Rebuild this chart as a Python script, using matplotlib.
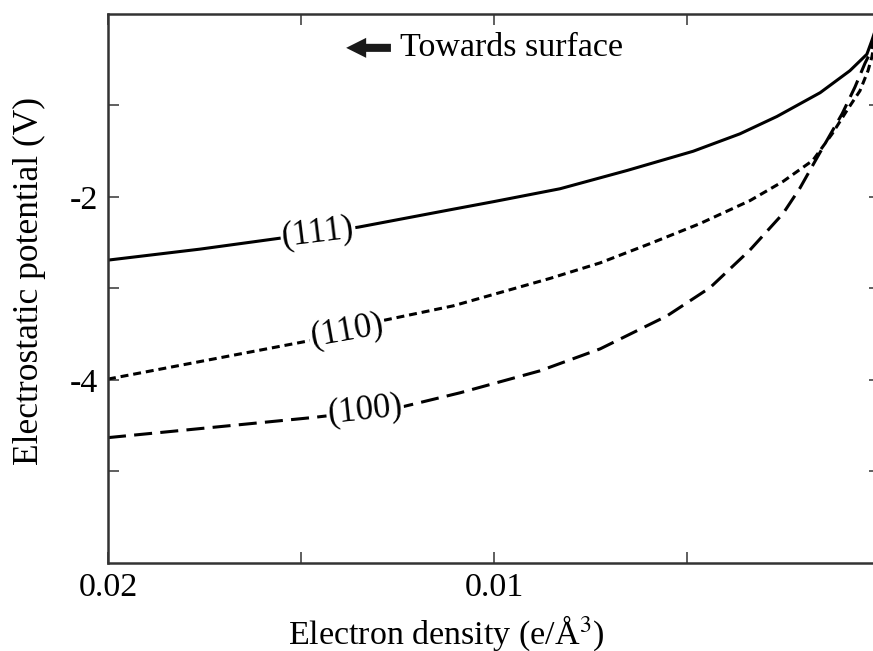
import numpy as np
import matplotlib.pyplot as plt

plt.rcParams['font.family'] = ['Liberation Serif', 'DejaVu Serif']
plt.rcParams['mathtext.fontset'] = 'stix'
plt.rcParams['axes.unicode_minus'] = False

# Electron density (e/A^3) and electrostatic potential (V)
dens_111 = [0.0200, 0.01762, 0.01554, 0.01352, 0.01114, 0.0100, 0.00829, 0.00655,
            0.00484, 0.00363, 0.00267, 0.00155, 0.00078, 0.00034, 0.00021, 0.00010]
pot_111 = [-2.69, -2.57, -2.45, -2.33, -2.14, -2.05, -1.91, -1.71,
           -1.50, -1.31, -1.12, -0.86, -0.62, -0.44, -0.29, -0.15]

dens_110 = [0.0200, 0.01477, 0.01288, 0.01106, 0.00855, 0.00725, 0.00596, 0.00466,
            0.00337, 0.00251, 0.00174, 0.00124, 0.00085, 0.00052, 0.00031, 0.00021, 0.00010]
pot_110 = [-3.99, -3.57, -3.35, -3.19, -2.89, -2.72, -2.51, -2.29,
           -2.04, -1.83, -1.60, -1.31, -1.05, -0.84, -0.62, -0.47, -0.20]

dens_100 = [0.0200, 0.01469, 0.01244, 0.01088, 0.00881, 0.00725, 0.00552, 0.00440,
            0.00337, 0.00251, 0.00207, 0.00163, 0.00098, 0.00065, 0.00039, 0.00026, 0.00010]
pot_100 = [-4.63, -4.41, -4.30, -4.14, -3.90, -3.66, -3.30, -2.99,
           -2.58, -2.18, -1.90, -1.57, -1.09, -0.80, -0.54, -0.43, -0.20]

x_ticks = [0.02, 0.015, 0.01, 0.005, 0.0]
x_ticklabels = ['0.02', '', '0.01', '', '']
y_ticks = [-5, -4, -3, -2, -1]
y_ticklabels = ['', '-4', '', '-2', '']

fig = plt.figure(figsize=(8.73, 6.51), dpi=100)
ax = fig.add_axes([0.1237, 0.1352, 0.8843, 0.8433])

fs = 24.5
ax.plot(dens_111, pot_111, color='black', lw=2.2, ls='-')
ax.plot(dens_110, pot_110, color='black', lw=2.2, ls=(0, (2.6, 1.6)))
ax.plot(dens_100, pot_100, color='black', lw=2.2, ls=(0, (5.9, 2.7)))

# curve labels sitting in gaps of the lines
lab_box = dict(facecolor='white', edgecolor='none', pad=1.0)
ax.text(0.01456, -2.39, '(111)', fontsize=25, rotation=7, ha='center', va='center', bbox=lab_box)
ax.text(0.01381, -3.46, '(110)', fontsize=25, rotation=10, ha='center', va='center', bbox=lab_box)
ax.text(0.01334, -4.33, '(100)', fontsize=25, rotation=6, ha='center', va='center', bbox=lab_box)

# arrow + note
ax.annotate('', xy=(0.01383, -0.37), xytext=(0.01267, -0.37),
            arrowprops=dict(arrowstyle='simple,head_length=0.72,head_width=0.72,tail_width=0.29',
                            mutation_scale=20, color='#1a1a1a', lw=0,
                            shrinkA=0, shrinkB=0))
ax.text(0.01244, -0.37, 'Towards surface', fontsize=fs, ha='left', va='center')

ax.set_xlim(0.02, 0.0)
ax.set_ylim(-6, 0)
ax.set_xticks(x_ticks)
ax.set_xticklabels(x_ticklabels)
ax.set_yticks(y_ticks)
ax.set_yticklabels(y_ticklabels)
ax.tick_params(direction='in', length=8, width=1.2, labelsize=fs,
               top=True, right=True, pad=7, color='#444444')
for s in ax.spines.values():
    s.set_linewidth(1.8)
    s.set_color('#333333')

fig.text(29 / 873, 1 - 281 / 651, 'Electrostatic potential (V)', fontsize=25.5,
         rotation=90, ha='center', va='center')
fig.text(446 / 873, 1 - 633 / 651, 'Electron density (e/Å$^3$)', fontsize=fs,
         ha='center', va='center')

fig.savefig('out.png', dpi=100)
